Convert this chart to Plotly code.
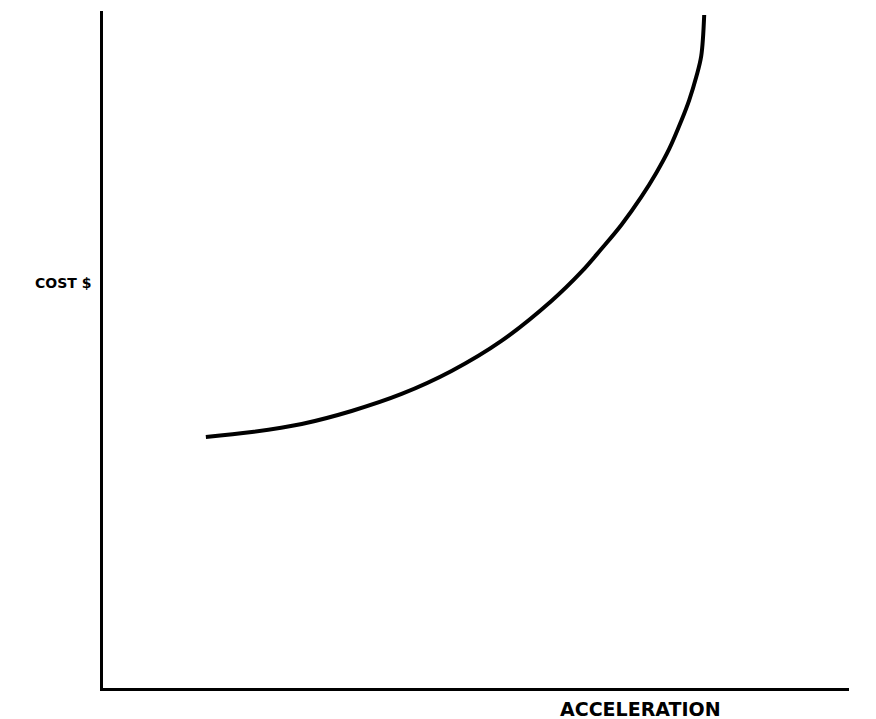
import plotly.graph_objects as go

# Curve (arbitrary units, axes 0-100)
acceleration = [13.79, 19.95, 26.64, 33.33, 40.03, 46.72, 53.41, 60.11, 64.12, 66.80,
                69.48, 72.16, 74.16, 75.90, 77.51, 78.58, 79.52, 80.19, 80.59]
cost = [37.08, 37.81, 39.00, 40.92, 43.43, 46.82, 51.26, 57.16, 61.45, 64.84,
        68.39, 72.53, 76.07, 79.62, 83.75, 86.85, 90.25, 93.35, 99.41]

x_label = "ACCELERATION"
y_label = "COST $"

fig = go.Figure()
fig.add_trace(go.Scatter(
    x=acceleration, y=cost, mode="lines",
    line=dict(color="black", width=4, shape="spline", smoothing=1.0),
    hoverinfo="skip", showlegend=False,
))

fig.update_xaxes(range=[0, 100], showline=True, linecolor="black", linewidth=3,
                 showgrid=False, zeroline=False, showticklabels=False, ticks="")
fig.update_yaxes(range=[0, 100], showline=True, linecolor="black", linewidth=3,
                 showgrid=False, zeroline=False, showticklabels=False, ticks="")

fig.add_annotation(text=y_label, xref="paper", yref="paper", x=-0.013, y=0.598,
                   xanchor="right", yanchor="middle", showarrow=False,
                   font=dict(family="DejaVu Sans", size=14, color="black", weight="bold"))
fig.add_annotation(text=x_label, xref="paper", yref="paper", x=0.721, y=-0.031,
                   xanchor="center", yanchor="middle", showarrow=False,
                   font=dict(family="DejaVu Sans", size=19, color="black", weight="bold"))

fig.update_layout(
    width=876, height=719,
    margin=dict(l=95, r=35, t=3, b=39),
    plot_bgcolor="white", paper_bgcolor="white",
)

fig.write_html("out.html")
